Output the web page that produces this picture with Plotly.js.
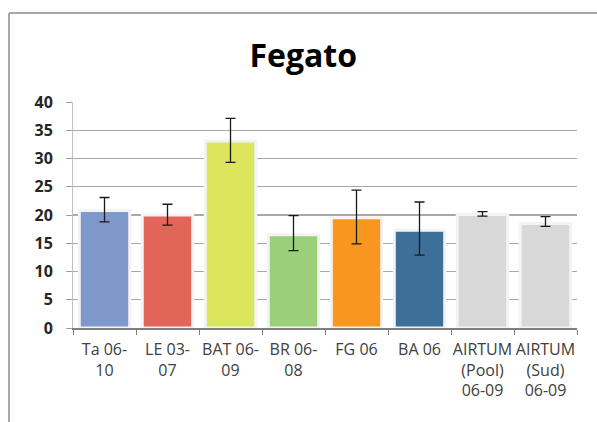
<!DOCTYPE html>
<html>
<head>
<meta charset="utf-8">
<script src="https://cdn.plot.ly/plotly-3.0.1.min.js"></script>
<style>html,body{margin:0;padding:0;background:#fff;}#chart{width:597px;height:422px;}</style>
</head>
<body>
<div id="chart"></div>
<script>
const categories = ["Ta 06-<br>10", "LE 03-<br>07", "BAT 06-<br>09", "BR 06-<br>08", "FG 06", "BA 06", "AIRTUM<br>(Pool)<br>06-09", "AIRTUM<br>(Sud)<br>06-09"];
const values = [20.8, 20.0, 33.1, 16.5, 19.5, 17.3, 20.1, 18.5];
const errPlus = [2.3, 1.9, 4.0, 3.4, 4.9, 5.0, 0.5, 1.2];
const errMinus = [2.0, 1.8, 3.8, 2.8, 4.6, 4.4, 0.3, 0.5];
const colors = ["#7f98cc", "#e2655a", "#dbe65b", "#9ccf79", "#f8971f", "#3e6f98", "#d8d8d8", "#d8d8d8"];
const yTicks = [0, 5, 10, 15, 20, 25, 30, 35, 40];

const trace = {
  type: "bar",
  x: categories,
  y: values,
  marker: {color: colors, line: {color: "#f3f3f3", width: 3}},
  error_y: {type: "data", symmetric: false, array: errPlus, arrayminus: errMinus, color: "#1a1a1a", thickness: 1.3, width: 5},
  hoverinfo: "none"
};

const layout = {
  width: 597, height: 422,
  margin: {l: 73, r: 20, t: 102, b: 94},
  paper_bgcolor: "#ffffff", plot_bgcolor: "#ffffff",
  showlegend: false,
  bargap: 0.2,
  title: {text: "<b>Fegato</b>", font: {family: "Open Sans", size: 32, color: "#000"}, x: 0.508, xanchor: "center", y: 0.868, yanchor: "middle"},
  xaxis: {
    type: "category",
    tickson: "boundaries",
    ticks: "outside", ticklen: 5, tickcolor: "#7f7f7f",
    showline: true, linecolor: "#7f7f7f", linewidth: 1.5,
    showgrid: false,
    ticklabelstandoff: 6,
    tickfont: {family: "Open Sans", size: 16, color: "#404040"},
    tickangle: 0
  },
  yaxis: {
    range: [0, 40], tickvals: yTicks, ticktext: yTicks.map(String),
    ticks: "outside", ticklen: 6, tickcolor: "#a0a0a0",
    showline: true, linecolor: "#c0c0c0", linewidth: 1,
    showgrid: true, gridcolor: "#a8a8a8", gridwidth: 1.2,
    zeroline: false,
    ticklabelstandoff: 10,
    tickfont: {family: "Open Sans", size: 16, color: "#262626", weight: "bold"}
  },
  shapes: [
    {type: "line", xref: "paper", yref: "paper", x0: -0.127, x1: -0.127, y0: 1.394, y1: -0.42, line: {color: "#a8a8a8", width: 2}},
    {type: "line", xref: "paper", yref: "paper", x0: -0.127, x1: 1.05, y0: 1.394, y1: 1.394, line: {color: "#a8a8a8", width: 2}}
  ]
};

Plotly.newPlot("chart", [trace], layout, {staticPlot: true, displayModeBar: false});
</script>
</body>
</html>
